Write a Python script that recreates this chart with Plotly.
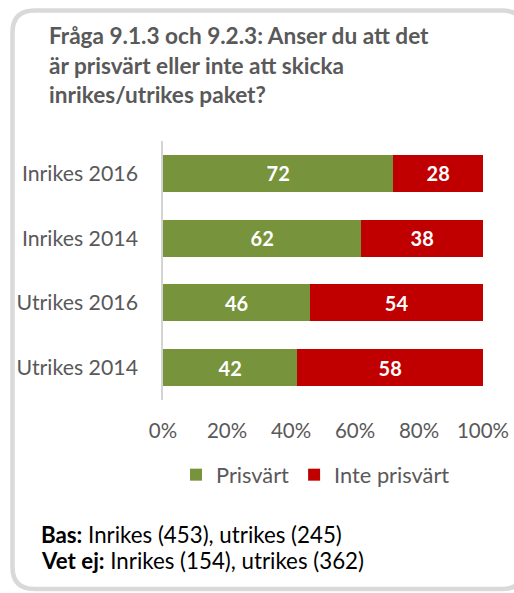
import plotly.graph_objects as go

categories = ["Inrikes 2016", "Inrikes 2014", "Utrikes 2016", "Utrikes 2014"]
prisvart = [72, 62, 46, 42]
inte_prisvart = [28, 38, 54, 58]
tick_vals = [0, 20, 40, 60, 80, 100]
tick_text = ["0%", "20%", "40%", "60%", "80%", "100%"]
title_lines = [
    "Fråga 9.1.3 och 9.2.3: Anser du att det",
    "är prisvärt eller inte att skicka",
    "inrikes/utrikes paket?",
]
footer_lines = [
    ("Bas:", " Inrikes (453), utrikes (245)"),
    ("Vet ej:", " Inrikes (154), utrikes (362)"),
]

W, H = 514, 593
L, R, T, B = 163, 31, 141, 193
PW, PH = W - L - R, H - T - B

def px(x):
    return (x - L) / PW

def py(y):
    return (H - B - y) / PH

FONT = "Lato"
GREY = "#595959"
GREEN = "#77933C"
RED = "#C00000"

fig = go.Figure()
fig.add_trace(go.Bar(
    y=categories, x=prisvart, name="Prisvärt", orientation="h",
    marker=dict(color=GREEN, line=dict(width=0)),
    text=prisvart, texttemplate="%{x}", textposition="inside",
    insidetextanchor="middle",
    textfont=dict(color="white", size=20, family=FONT, weight="bold"),
    hoverinfo="skip",
))
fig.add_trace(go.Bar(
    y=categories, x=inte_prisvart, name="Inte prisvärt", orientation="h",
    marker=dict(color=RED, line=dict(width=0)),
    text=inte_prisvart, texttemplate="%{x}", textposition="inside",
    insidetextanchor="middle",
    textfont=dict(color="white", size=20, family=FONT, weight="bold"),
    hoverinfo="skip",
))

annotations = []
title_y = [36, 65.5, 95]
for line, yy in zip(title_lines, title_y):
    annotations.append(dict(
        text="<b>" + line + "</b>", xref="paper", yref="paper",
        x=px(47), y=py(yy), xanchor="left", yanchor="middle",
        showarrow=False, font=dict(family=FONT, size=22.6, color=GREY),
    ))
foot_y = [534, 560]
for (bold, rest), yy in zip(footer_lines, foot_y):
    annotations.append(dict(
        text="<b>" + bold + "</b>" + rest, xref="paper", yref="paper",
        x=px(39), y=py(yy), xanchor="left", yanchor="middle",
        showarrow=False, font=dict(family=FONT, size=22.3, color="#000000"),
    ))

# rounded border
x0, x1 = px(12.5), px(524)
y0, y1 = py(10.5), py(589)
rx, ry = 22 / PW, 22 / PH
path = (
    f"M{x0 + rx},{y0} L{x1 - rx},{y0} Q{x1},{y0} {x1},{y0 - ry} "
    f"L{x1},{y1 + ry} Q{x1},{y1} {x1 - rx},{y1} "
    f"L{x0 + rx},{y1} Q{x0},{y1} {x0},{y1 + ry} "
    f"L{x0},{y0 - ry} Q{x0},{y0} {x0 + rx},{y0} Z"
)

fig.update_layout(
    width=W, height=H,
    margin=dict(l=L, r=R, t=T, b=B, autoexpand=False),
    barmode="stack", bargap=0.428,
    paper_bgcolor="white", plot_bgcolor="white",
    font=dict(family=FONT, color=GREY),
    showlegend=True,
    legend=dict(
        orientation="h", x=px(176), y=py(475), xanchor="left", yanchor="middle",
        font=dict(family=FONT, size=21.8, color=GREY), traceorder="normal",
        itemclick=False, itemdoubleclick=False,
    ),
    annotations=annotations,
    shapes=[dict(type="path", path=path, xref="paper", yref="paper",
                 line=dict(color="#D9D9D9", width=4.5), layer="below")],
    xaxis=dict(
        range=[0, 100], tickvals=tick_vals, ticktext=tick_text,
        showgrid=False, zeroline=False, showline=False, ticks="",
        tickfont=dict(family=FONT, size=20.5, color=GREY),
        ticklabelstandoff=16, fixedrange=True,
    ),
    yaxis=dict(
        categoryorder="array", categoryarray=categories, autorange="reversed",
        showgrid=False, zeroline=False, showline=True,
        linecolor="#D4D4D4", linewidth=1.5, ticks="",
        tickfont=dict(family=FONT, size=21.3, color=GREY),
        ticklabelstandoff=19, fixedrange=True,
    ),
)

fig.write_html("out.html", config={"displayModeBar": False})
